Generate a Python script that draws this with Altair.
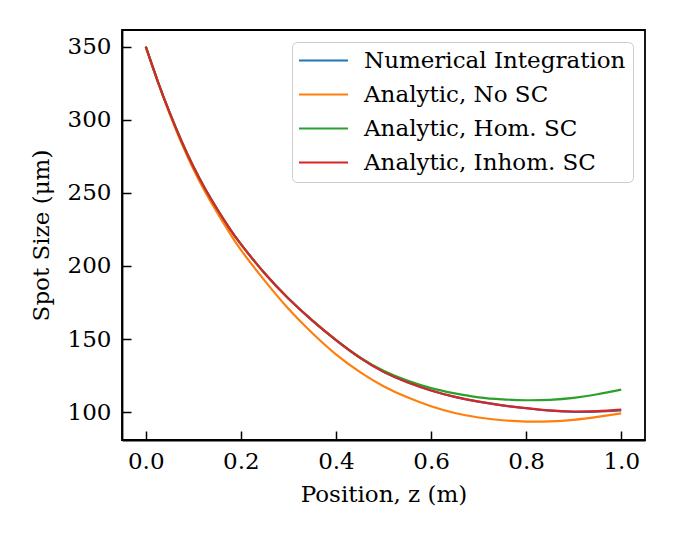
import altair as alt
import pandas as pd

# Position along beamline, z (m)
z = [0.0, 0.025, 0.05, 0.075, 0.10, 0.125, 0.15, 0.175, 0.20, 0.25, 0.30, 0.35,
     0.40, 0.45, 0.50, 0.55, 0.60, 0.65, 0.70, 0.75, 0.80, 0.85, 0.90, 0.95, 1.00]

# Spot size (um) for each series
numerical = [350, 326.5, 305, 285.5, 268, 252.7, 239, 226.3, 215, 195, 177.8, 162.8,
             149.3, 137.3, 127.6, 120.5, 114.9, 110.5, 107.2, 104.7, 102.7, 101.1,
             100.3, 100.4, 101.2]
no_sc = [350, 326.2, 304.3, 284.2, 266.3, 250.6, 236.6, 223.3, 211, 190, 170.8, 154.2,
         139.6, 127.6, 117.8, 110.2, 104.1, 99.5, 96.4, 94.5, 93.6, 93.7,
         94.8, 96.8, 99.2]
hom_sc = [350, 326.5, 305, 285.5, 268, 252.7, 239, 226.3, 215, 195, 177.8, 162.8,
          149.4, 137.6, 128.3, 121.6, 116.5, 112.9, 110.2, 108.8, 108.2, 108.5,
          109.8, 112.3, 115.5]
inhom_sc = [350, 326.5, 305, 285.5, 268, 252.7, 239, 226.3, 215, 195, 177.8, 162.8,
            149.3, 137.3, 127.6, 120.5, 114.9, 110.5, 107.2, 104.7, 102.8, 101.2,
            100.5, 100.8, 101.8]

series_names = ["Numerical Integration", "Analytic, No SC",
                "Analytic, Hom. SC", "Analytic, Inhom. SC"]
series_colors = ["#1f77b4", "#ff7f0e", "#2ca02c", "#d62728"]

x_ticks = [0.0, 0.2, 0.4, 0.6, 0.8, 1.0]
y_ticks = [100, 150, 200, 250, 300, 350]

rows = []
for name, vals in zip(series_names, [numerical, no_sc, hom_sc, inhom_sc]):
    for zz, v in zip(z, vals):
        rows.append({"z": zz, "size": v, "series": name})
df = pd.DataFrame(rows)

FONT = "DejaVu Serif"
FS = 23

chart = alt.Chart(df).mark_line(strokeWidth=2.2, interpolate="natural").encode(
    x=alt.X("z:Q", scale=alt.Scale(domain=[-0.05, 1.05], nice=False, zero=False),
            axis=alt.Axis(title="Position, z (m)", values=x_ticks, format=".1f",
                          labelPadding=19, titlePadding=10)),
    y=alt.Y("size:Q", scale=alt.Scale(domain=[81.0, 361.4], nice=False, zero=False),
            axis=alt.Axis(title="Spot Size (μm)", values=y_ticks,
                          labelPadding=20, titlePadding=14)),
    color=alt.Color("series:N", sort=series_names,
                    scale=alt.Scale(domain=series_names, range=series_colors),
                    legend=alt.Legend(title=None, orient="top-right", offset=12,
                                      symbolType="M-2.45,0H2.45", symbolSize=400,
                                      symbolStrokeWidth=2.2, symbolOffset=13,
                                      labelOffset=29,
                                      labelFont=FONT, labelFontSize=FS,
                                      labelColor="black", padding=7,
                                      rowPadding=10, strokeColor="#cccccc",
                                      fillColor="white", cornerRadius=5,
                                      labelLimit=400)),
).properties(
    width=523, height=410,
    autosize=alt.AutoSizeParams(type="none"),
    padding={"left": 114, "top": 22, "right": 20, "bottom": 80},
).configure_view(
    stroke="black", strokeWidth=1.8
).configure_axis(
    grid=False, domainColor="black", domainWidth=1.8,
    tickColor="black", tickWidth=1.5, tickSize={"expr": "-9"},
    labelFont=FONT, labelFontSize=FS, labelColor="black",
    titleFont=FONT, titleFontSize=FS, titleFontWeight="normal", titleColor="black",
)

chart.save("out.html", embed_options={"renderer": "svg", "actions": False})
